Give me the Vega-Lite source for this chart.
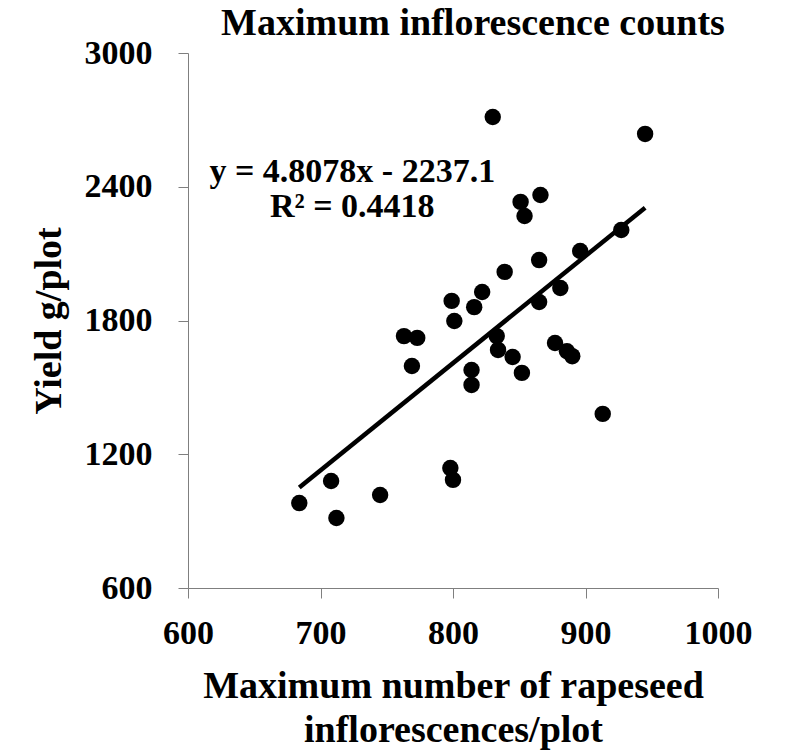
{
  "$schema": "https://vega.github.io/schema/vega-lite/v6.json",
  "autosize": "none",
  "width": 530,
  "height": 535,
  "padding": {"left": 188, "top": 53, "right": 67, "bottom": 163},
  "background": "white",
  "config": {"view": {"stroke": null}, "font": "Times New Roman, Liberation Serif, serif"},
  "title": {"text": "Maximum inflorescence counts", "fontSize": 38, "font": "Times New Roman, Liberation Serif, serif", "fontWeight": "bold", "color": "black", "anchor": "middle", "offset": -7, "dx": 20},
  "layer": [
    {
      "data": {"values": [
        {"inflorescences": 684, "yield": 981},
        {"inflorescences": 708, "yield": 1080},
        {"inflorescences": 712, "yield": 914},
        {"inflorescences": 745, "yield": 1017},
        {"inflorescences": 798, "yield": 1138},
        {"inflorescences": 800, "yield": 1085},
        {"inflorescences": 763, "yield": 1730},
        {"inflorescences": 773, "yield": 1722},
        {"inflorescences": 769, "yield": 1596},
        {"inflorescences": 799, "yield": 1888},
        {"inflorescences": 801, "yield": 1798},
        {"inflorescences": 816, "yield": 1860},
        {"inflorescences": 822, "yield": 1928},
        {"inflorescences": 839, "yield": 2018},
        {"inflorescences": 814, "yield": 1578},
        {"inflorescences": 814, "yield": 1511},
        {"inflorescences": 833, "yield": 1730},
        {"inflorescences": 834, "yield": 1668},
        {"inflorescences": 845, "yield": 1636},
        {"inflorescences": 852, "yield": 1565},
        {"inflorescences": 851, "yield": 2332},
        {"inflorescences": 854, "yield": 2269},
        {"inflorescences": 866, "yield": 2363},
        {"inflorescences": 830, "yield": 2713},
        {"inflorescences": 865, "yield": 2071},
        {"inflorescences": 865, "yield": 1883},
        {"inflorescences": 881, "yield": 1946},
        {"inflorescences": 877, "yield": 1699},
        {"inflorescences": 886, "yield": 1662},
        {"inflorescences": 890, "yield": 1640},
        {"inflorescences": 913, "yield": 1381},
        {"inflorescences": 896, "yield": 2112},
        {"inflorescences": 927, "yield": 2206},
        {"inflorescences": 945, "yield": 2637}
      ]},
      "mark": {"type": "point", "filled": true, "shape": "circle", "size": 270, "color": "black", "opacity": 1},
      "encoding": {
        "x": {"field": "inflorescences", "type": "quantitative", "scale": {"domain": [600, 1000], "nice": false, "zero": false},
          "axis": {"values": [600, 700, 800, 900, 1000], "format": "d", "grid": false, "labelFontSize": 34, "labelFontWeight": "bold", "labelColor": "black", "labelFont": "Times New Roman, Liberation Serif, serif",
            "domainColor": "#7f7f7f", "tickColor": "#7f7f7f", "tickSize": 10, "labelPadding": 18, "labelFlush": false,
            "title": ["Maximum number of rapeseed", "inflorescences/plot"], "titleFontSize": 38, "titleFontWeight": "bold", "titleColor": "black", "titleFont": "Times New Roman, Liberation Serif, serif", "titlePadding": 17, "titleLineHeight": 44}},
        "y": {"field": "yield", "type": "quantitative", "scale": {"domain": [600, 3000], "nice": false, "zero": false},
          "axis": {"values": [600, 1200, 1800, 2400, 3000], "format": "d", "grid": false, "labelFontSize": 34, "labelFontWeight": "bold", "labelColor": "black", "labelFont": "Times New Roman, Liberation Serif, serif",
            "domainColor": "#7f7f7f", "tickColor": "#7f7f7f", "tickSize": 10, "labelPadding": 26, "labelFlush": false,
            "title": "Yield g/plot", "titleFontSize": 38, "titleFontWeight": "bold", "titleColor": "black", "titleFont": "Times New Roman, Liberation Serif, serif", "titlePadding": 16}}
      }
    },
    {
      "data": {"values": [{"inflorescences": 684, "yield": 1051}, {"inflorescences": 945, "yield": 2306}]},
      "mark": {"type": "line", "color": "black", "strokeWidth": 4.5},
      "encoding": {
        "x": {"field": "inflorescences", "type": "quantitative"},
        "y": {"field": "yield", "type": "quantitative"}
      }
    },
    {
      "data": {"values": [{"ex": 724, "ey": 2466, "label": "y = 4.8078x - 2237.1"}, {"ex": 724, "ey": 2309, "label": "R² = 0.4418"}]},
      "mark": {"type": "text", "font": "Times New Roman, Liberation Serif, serif", "fontWeight": "bold", "fontSize": 34, "color": "black", "align": "center", "baseline": "middle"},
      "encoding": {
        "x": {"field": "ex", "type": "quantitative"},
        "y": {"field": "ey", "type": "quantitative"},
        "text": {"field": "label"}
      }
    }
  ]
}
